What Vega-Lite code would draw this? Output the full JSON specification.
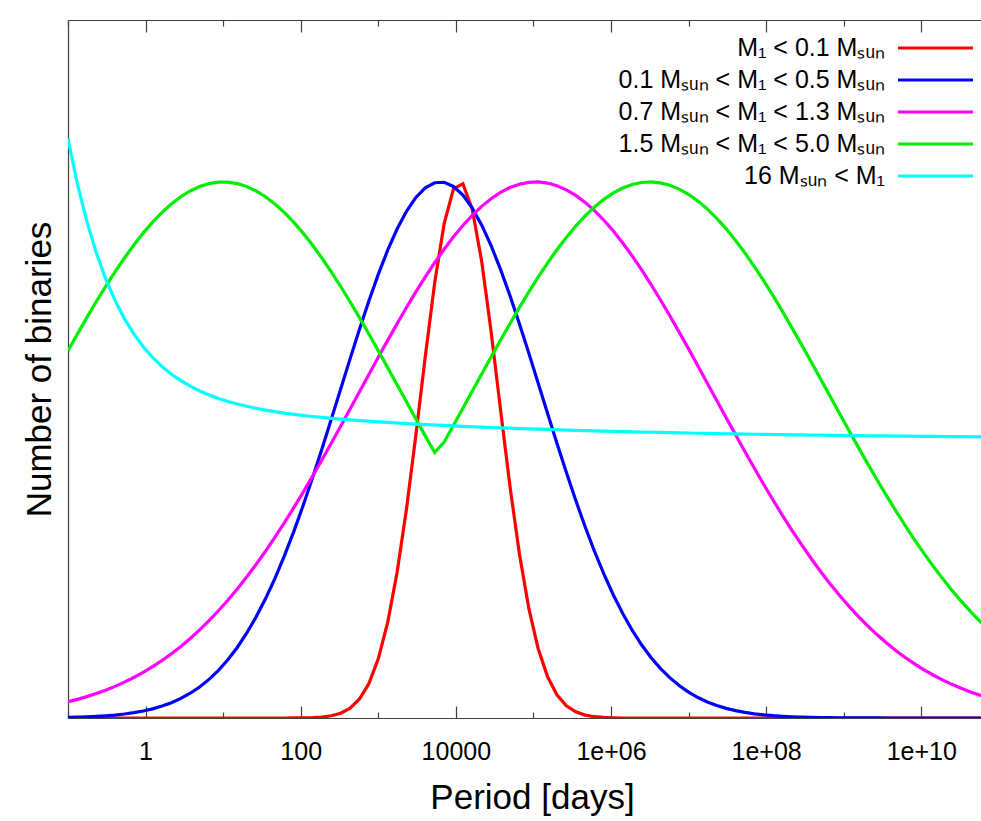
{
"$schema": "https://vega.github.io/schema/vega-lite/v6.json",
"width": 913, "height": 698,
"autosize": {"type": "none"},
"padding": {"left": 68, "top": 20, "right": 0, "bottom": 103},
"background": "white",
"config": {"font": "Liberation Sans", "view": {"stroke": null}, "axis": {"grid": false, "domainColor": "#404040", "domainWidth": 1.2, "tickColor": "#404040", "tickWidth": 1.2}},
"data": {"values": [
{"logP":-1,"m1":0,"m2":0.0011,"m3":0.0303,"m4":0.6852,"m5":1.0804},
{"logP":-0.8788,"m1":0,"m2":0.0015,"m3":0.0348,"m4":0.7163,"m5":0.9965},
{"logP":-0.7576,"m1":0,"m2":0.0021,"m3":0.0399,"m4":0.7468,"m5":0.9266},
{"logP":-0.6364,"m1":0,"m2":0.0030,"m3":0.0456,"m4":0.7764,"m5":0.8683},
{"logP":-0.5152,"m1":0,"m2":0.0041,"m3":0.0519,"m4":0.8049,"m5":0.8197},
{"logP":-0.3939,"m1":0,"m2":0.0055,"m3":0.0590,"m4":0.8322,"m5":0.7790},
{"logP":-0.2727,"m1":0,"m2":0.0074,"m3":0.0669,"m4":0.8580,"m5":0.7450},
{"logP":-0.1515,"m1":0,"m2":0.0099,"m3":0.0756,"m4":0.8822,"m5":0.7166},
{"logP":-0.0303,"m1":0,"m2":0.0130,"m3":0.0852,"m4":0.9045,"m5":0.6926},
{"logP":0.0909,"m1":0,"m2":0.0171,"m3":0.0957,"m4":0.9249,"m5":0.6725},
{"logP":0.2121,"m1":0,"m2":0.0222,"m3":0.1073,"m4":0.9430,"m5":0.6556},
{"logP":0.3333,"m1":0,"m2":0.0286,"m3":0.1198,"m4":0.9589,"m5":0.6413},
{"logP":0.4545,"m1":0,"m2":0.0365,"m3":0.1335,"m4":0.9723,"m5":0.6292},
{"logP":0.5758,"m1":0,"m2":0.0462,"m3":0.1484,"m4":0.9831,"m5":0.6189},
{"logP":0.6970,"m1":0,"m2":0.0579,"m3":0.1643,"m4":0.9914,"m5":0.6101},
{"logP":0.8182,"m1":0,"m2":0.0720,"m3":0.1816,"m4":0.9969,"m5":0.6026},
{"logP":0.9394,"m1":0,"m2":0.0888,"m3":0.2000,"m4":0.9997,"m5":0.5961},
{"logP":1.0606,"m1":0,"m2":0.1086,"m3":0.2197,"m4":0.9997,"m5":0.5905},
{"logP":1.1818,"m1":0,"m2":0.1316,"m3":0.2406,"m4":0.9969,"m5":0.5856},
{"logP":1.3030,"m1":0,"m2":0.1581,"m3":0.2629,"m4":0.9914,"m5":0.5814},
{"logP":1.4242,"m1":0,"m2":0.1883,"m3":0.2864,"m4":0.9831,"m5":0.5777},
{"logP":1.5455,"m1":0,"m2":0.2223,"m3":0.3110,"m4":0.9723,"m5":0.5744},
{"logP":1.6667,"m1":0,"m2":0.2601,"m3":0.3369,"m4":0.9589,"m5":0.5714},
{"logP":1.7879,"m1":0,"m2":0.3019,"m3":0.3639,"m4":0.9430,"m5":0.5688},
{"logP":1.9091,"m1":0.0001,"m2":0.3472,"m3":0.3919,"m4":0.9249,"m5":0.5665},
{"logP":2.0303,"m1":0.0003,"m2":0.3959,"m3":0.4208,"m4":0.9045,"m5":0.5643},
{"logP":2.1515,"m1":0.0007,"m2":0.4475,"m3":0.4507,"m4":0.8822,"m5":0.5624},
{"logP":2.2727,"m1":0.0018,"m2":0.5015,"m3":0.4813,"m4":0.8580,"m5":0.5607},
{"logP":2.3939,"m1":0.0042,"m2":0.5571,"m3":0.5125,"m4":0.8322,"m5":0.5590},
{"logP":2.5152,"m1":0.0090,"m2":0.6136,"m3":0.5443,"m4":0.8049,"m5":0.5575},
{"logP":2.6364,"m1":0.0184,"m2":0.6699,"m3":0.5763,"m4":0.7764,"m5":0.5561},
{"logP":2.7576,"m1":0.0354,"m2":0.7251,"m3":0.6086,"m4":0.7468,"m5":0.5548},
{"logP":2.8788,"m1":0.0644,"m2":0.7780,"m3":0.6408,"m4":0.7163,"m5":0.5536},
{"logP":3.0,"m1":0.1103,"m2":0.8275,"m3":0.6728,"m4":0.6852,"m5":0.5524},
{"logP":3.1212,"m1":0.1781,"m2":0.8726,"m3":0.7044,"m4":0.6536,"m5":0.5513},
{"logP":3.2424,"m1":0.2713,"m2":0.9121,"m3":0.7354,"m4":0.6217,"m5":0.5503},
{"logP":3.3636,"m1":0.3897,"m2":0.9452,"m3":0.7656,"m4":0.5898,"m5":0.5492},
{"logP":3.4848,"m1":0.5279,"m2":0.9710,"m3":0.7948,"m4":0.5579,"m5":0.5483},
{"logP":3.6061,"m1":0.6743,"m2":0.9889,"m3":0.8228,"m4":0.5263,"m5":0.5474},
{"logP":3.7273,"m1":0.8120,"m2":0.9984,"m3":0.8494,"m4":0.4951,"m5":0.5465},
{"logP":3.8485,"m1":0.9220,"m2":0.9993,"m3":0.8743,"m4":0.5145,"m5":0.5457},
{"logP":3.9697,"m1":0.9872,"m2":0.9915,"m3":0.8975,"m4":0.5460,"m5":0.5449},
{"logP":4.0909,"m1":0.9967,"m2":0.9753,"m3":0.9187,"m4":0.5778,"m5":0.5441},
{"logP":4.2121,"m1":0.9488,"m2":0.9510,"m3":0.9377,"m4":0.6097,"m5":0.5433},
{"logP":4.3333,"m1":0.8517,"m2":0.9193,"m3":0.9544,"m4":0.6417,"m5":0.5426},
{"logP":4.4545,"m1":0.7209,"m2":0.8810,"m3":0.9686,"m4":0.6733,"m5":0.5419},
{"logP":4.5758,"m1":0.5753,"m2":0.8369,"m3":0.9804,"m4":0.7047,"m5":0.5413},
{"logP":4.6970,"m1":0.4329,"m2":0.7882,"m3":0.9894,"m4":0.7355,"m5":0.5406},
{"logP":4.8182,"m1":0.3072,"m2":0.7359,"m3":0.9957,"m4":0.7654,"m5":0.5399},
{"logP":4.9394,"m1":0.2055,"m2":0.6811,"m3":0.9992,"m4":0.7944,"m5":0.5393},
{"logP":5.0606,"m1":0.1297,"m2":0.6249,"m3":0.9999,"m4":0.8222,"m5":0.5388},
{"logP":5.1818,"m1":0.0772,"m2":0.5684,"m3":0.9978,"m4":0.8486,"m5":0.5382},
{"logP":5.3030,"m1":0.0433,"m2":0.5126,"m3":0.9929,"m4":0.8734,"m5":0.5377},
{"logP":5.4242,"m1":0.0229,"m2":0.4582,"m3":0.9852,"m4":0.8964,"m5":0.5371},
{"logP":5.5455,"m1":0.0114,"m2":0.4060,"m3":0.9748,"m4":0.9175,"m5":0.5366},
{"logP":5.6667,"m1":0.0054,"m2":0.3567,"m3":0.9618,"m4":0.9365,"m5":0.5361},
{"logP":5.7879,"m1":0.0024,"m2":0.3106,"m3":0.9462,"m4":0.9532,"m5":0.5356},
{"logP":5.9091,"m1":0.0010,"m2":0.2682,"m3":0.9284,"m4":0.9675,"m5":0.5352},
{"logP":6.0303,"m1":0.0004,"m2":0.2295,"m3":0.9083,"m4":0.9794,"m5":0.5347},
{"logP":6.1515,"m1":0,"m2":0.1948,"m3":0.8861,"m4":0.9886,"m5":0.5343},
{"logP":6.2727,"m1":0,"m2":0.1638,"m3":0.8620,"m4":0.9951,"m5":0.5339},
{"logP":6.3939,"m1":0,"m2":0.1366,"m3":0.8362,"m4":0.9989,"m5":0.5334},
{"logP":6.5152,"m1":0,"m2":0.1129,"m3":0.8088,"m4":1.0000,"m5":0.5330},
{"logP":6.6364,"m1":0,"m2":0.0925,"m3":0.7802,"m4":0.9982,"m5":0.5327},
{"logP":6.7576,"m1":0,"m2":0.0752,"m3":0.7505,"m4":0.9937,"m5":0.5323},
{"logP":6.8788,"m1":0,"m2":0.0606,"m3":0.7198,"m4":0.9865,"m5":0.5319},
{"logP":7.0,"m1":0,"m2":0.0483,"m3":0.6885,"m4":0.9766,"m5":0.5316},
{"logP":7.1212,"m1":0,"m2":0.0382,"m3":0.6566,"m4":0.9642,"m5":0.5312},
{"logP":7.2424,"m1":0,"m2":0.0300,"m3":0.6245,"m4":0.9492,"m5":0.5309},
{"logP":7.3636,"m1":0,"m2":0.0234,"m3":0.5923,"m4":0.9319,"m5":0.5305},
{"logP":7.4848,"m1":0,"m2":0.0180,"m3":0.5601,"m4":0.9124,"m5":0.5302},
{"logP":7.6061,"m1":0,"m2":0.0138,"m3":0.5282,"m4":0.8908,"m5":0.5299},
{"logP":7.7273,"m1":0,"m2":0.0104,"m3":0.4967,"m4":0.8673,"m5":0.5296},
{"logP":7.8485,"m1":0,"m2":0.0078,"m3":0.4658,"m4":0.8421,"m5":0.5293},
{"logP":7.9697,"m1":0,"m2":0.0058,"m3":0.4355,"m4":0.8153,"m5":0.5291},
{"logP":8.0909,"m1":0,"m2":0.0043,"m3":0.4061,"m4":0.7873,"m5":0.5288},
{"logP":8.2121,"m1":0,"m2":0.0032,"m3":0.3776,"m4":0.7580,"m5":0.5285},
{"logP":8.3333,"m1":0,"m2":0.0023,"m3":0.3501,"m4":0.7278,"m5":0.5283},
{"logP":8.4545,"m1":0,"m2":0.0016,"m3":0.3237,"m4":0.6969,"m5":0.5280},
{"logP":8.5758,"m1":0,"m2":0.0012,"m3":0.2984,"m4":0.6654,"m5":0.5278},
{"logP":8.6970,"m1":0,"m2":0.0008,"m3":0.2743,"m4":0.6337,"m5":0.5276},
{"logP":8.8182,"m1":0,"m2":0.0006,"m3":0.2515,"m4":0.6018,"m5":0.5273},
{"logP":8.9394,"m1":0,"m2":0.0004,"m3":0.2299,"m4":0.5698,"m5":0.5271},
{"logP":9.0606,"m1":0,"m2":0.0003,"m3":0.2096,"m4":0.5381,"m5":0.5269},
{"logP":9.1818,"m1":0,"m2":0.0002,"m3":0.1905,"m4":0.5067,"m5":0.5267},
{"logP":9.3030,"m1":0,"m2":0.0001,"m3":0.1727,"m4":0.4759,"m5":0.5265},
{"logP":9.4242,"m1":0,"m2":0.0001,"m3":0.1561,"m4":0.4457,"m5":0.5263},
{"logP":9.5455,"m1":0,"m2":0,"m3":0.1407,"m4":0.4162,"m5":0.5261},
{"logP":9.6667,"m1":0,"m2":0,"m3":0.1265,"m4":0.3876,"m5":0.5259},
{"logP":9.7879,"m1":0,"m2":0,"m3":0.1133,"m4":0.3600,"m5":0.5258},
{"logP":9.9091,"m1":0,"m2":0,"m3":0.1013,"m4":0.3334,"m5":0.5256},
{"logP":10.0303,"m1":0,"m2":0,"m3":0.0903,"m4":0.3079,"m5":0.5254},
{"logP":10.1515,"m1":0,"m2":0,"m3":0.0802,"m4":0.2836,"m5":0.5252},
{"logP":10.2727,"m1":0,"m2":0,"m3":0.0711,"m4":0.2605,"m5":0.5251},
{"logP":10.3939,"m1":0,"m2":0,"m3":0.0628,"m4":0.2385,"m5":0.5249},
{"logP":10.5152,"m1":0,"m2":0,"m3":0.0554,"m4":0.2179,"m5":0.5248},
{"logP":10.6364,"m1":0,"m2":0,"m3":0.0486,"m4":0.1985,"m5":0.5246},
{"logP":10.7576,"m1":0,"m2":0,"m3":0.0426,"m4":0.1803,"m5":0.5245},
{"logP":10.8788,"m1":0,"m2":0,"m3":0.0372,"m4":0.1633,"m5":0.5244}
]},
"transform": [{"fold": ["m1","m2","m3","m4","m5"], "as": ["series","n"]}],
"layer": [
{"mark": {"type": "line", "strokeWidth": 3.2, "clip": true},
 "encoding": {
  "x": {"field": "logP", "type": "quantitative",
        "scale": {"domain": [-1, 10.77], "nice": false, "zero": false},
        "axis": {"orient": "bottom", "values": [-1,0,1,2,3,4,5,6,7,8,9,10],
                 "tickSize": {"condition": {"test": "datum.value % 2 == 0", "value": -12}, "value": -6},
                 "labelExpr": "datum.value == 0 ? '1' : datum.value == 2 ? '100' : datum.value == 4 ? '10000' : datum.value == 6 ? '1e+06' : datum.value == 8 ? '1e+08' : datum.value == 10 ? '1e+10' : ''",
                 "labelFontSize": 25, "labelPadding": 53, "labelBaseline": "alphabetic", "labelColor": "black",
                 "labelFlush": false, "labelOverlap": false,
                 "title": "Period [days]", "titleFontSize": 35, "titleFontWeight": "normal", "titleColor": "black",
                 "titleX": 464, "titleY": 62, "titleBaseline": "top"}},
  "y": {"field": "n", "type": "quantitative",
        "scale": {"domain": [0, 1.302], "nice": false},
        "axis": {"title": "Number of binaries", "ticks": false, "labels": false,
                 "titleFontSize": 35, "titleFontWeight": "normal", "titleColor": "black",
                 "titleX": -18, "titleY": 349, "titleBaseline": "alphabetic", "titleAngle": -90}},
  "color": {"field": "series", "type": "nominal",
            "scale": {"domain": ["m1","m2","m3","m4","m5"], "range": ["#ff0000","#0000ff","#ff00ff","#00ee00","#00ffff"]},
            "legend": {"orient": "none", "legendX": 851, "legendY": 11.5, "title": null, "padding": 0,
                       "symbolType": "M-2.5,0H2.5", "symbolSize": 900, "symbolStrokeWidth": 3, "symbolOpacity": 1,
                       "labelAlign": "right", "labelOffset": -67, "labelFontSize": 25, "labelColor": "black", "labelLimit": 0,
                       "rowPadding": 2,
                       "labelExpr": "datum.label == 'm1' ? 'M₁ < 0.1 Mₛᵤₙ' : datum.label == 'm2' ? '0.1 Mₛᵤₙ < M₁ < 0.5 Mₛᵤₙ' : datum.label == 'm3' ? '0.7 Mₛᵤₙ < M₁ < 1.3 Mₛᵤₙ' : datum.label == 'm4' ? '1.5 Mₛᵤₙ < M₁ < 5.0 Mₛᵤₙ' : '16 Mₛᵤₙ < M₁'"}}
 }},
{"mark": {"type": "point", "opacity": 0},
 "encoding": {
  "x": {"field": "logP", "type": "quantitative",
        "scale": {"domain": [-1, 10.77], "nice": false, "zero": false},
        "axis": {"orient": "top", "values": [-1,0,1,2,3,4,5,6,7,8,9,10],
                 "tickSize": {"condition": {"test": "datum.value % 2 == 0", "value": -12}, "value": -6},
                 "labels": false, "title": null}}
 }}
],
"resolve": {"axis": {"x": "independent"}}
}
